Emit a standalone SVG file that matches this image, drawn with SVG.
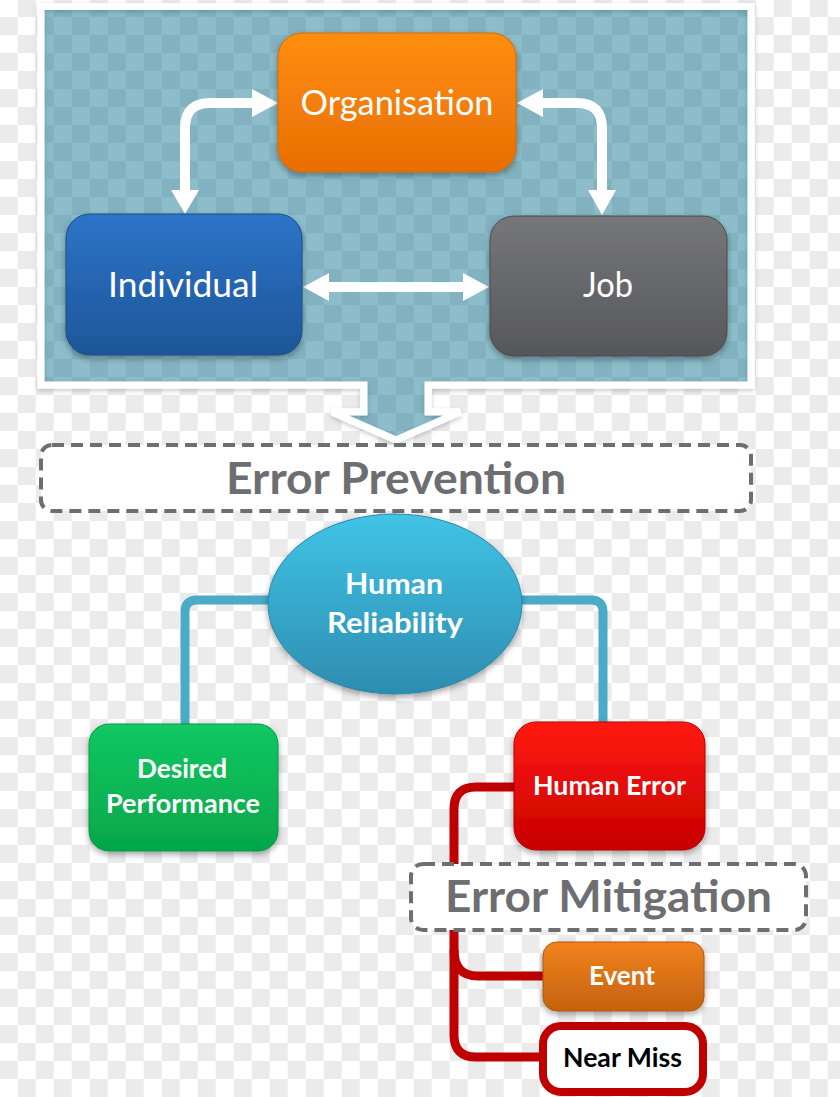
<svg xmlns="http://www.w3.org/2000/svg" width="840" height="1097" viewBox="0 0 840 1097">
  <defs>
    <pattern id="chk" x="-0.3" y="-1" width="36" height="36" patternUnits="userSpaceOnUse">
      <rect width="36" height="36" fill="#ffffff"/>
      <rect x="18" y="0" width="18" height="18" fill="#ebebeb"/>
      <rect x="0" y="18" width="18" height="18" fill="#ebebeb"/>
    </pattern>
    <linearGradient id="gOrg" x1="0" y1="0" x2="0" y2="1"><stop offset="0" stop-color="#ff8e10"/><stop offset="1" stop-color="#e86e02"/></linearGradient>
    <linearGradient id="gInd" x1="0" y1="0" x2="0" y2="1"><stop offset="0" stop-color="#2c74c8"/><stop offset="1" stop-color="#1e5699"/></linearGradient>
    <linearGradient id="gJob" x1="0" y1="0" x2="0" y2="1"><stop offset="0" stop-color="#76777b"/><stop offset="1" stop-color="#56575a"/></linearGradient>
    <linearGradient id="gDes" x1="0" y1="0" x2="0" y2="1"><stop offset="0" stop-color="#12c862"/><stop offset="1" stop-color="#05a64a"/></linearGradient>
    <linearGradient id="gErr" x1="0" y1="0" x2="0" y2="1"><stop offset="0" stop-color="#ff1a10"/><stop offset="1" stop-color="#c80000"/></linearGradient>
    <linearGradient id="gEvt" x1="0" y1="0" x2="0" y2="1"><stop offset="0" stop-color="#f2821e"/><stop offset="1" stop-color="#c4620e"/></linearGradient>
    <linearGradient id="gHR" x1="0" y1="0" x2="0" y2="1"><stop offset="0" stop-color="#40c4e6"/><stop offset="1" stop-color="#2d8db0"/></linearGradient>
    <filter id="sh" x="-10%" y="-10%" width="120%" height="130%">
      <feDropShadow dx="0" dy="3" stdDeviation="3" flood-color="#000" flood-opacity="0.35"/>
    </filter>
    <filter id="shLight" x="-5%" y="-5%" width="110%" height="115%">
      <feDropShadow dx="0" dy="2" stdDeviation="2.5" flood-color="#000" flood-opacity="0.22"/>
    </filter>
  </defs>
  <style>
    .lbl { font-family: Lato, "Liberation Sans", sans-serif; fill: #ffffff; text-anchor: middle; }
    .big { font-size: 34px; font-weight: normal; }
    .bold { font-weight: bold; font-size: 26px; }
    .hdr { font-family: Lato, "Liberation Sans", sans-serif; font-weight: bold; font-size: 44px; fill: #6d6e71; text-anchor: middle; }
    .dash { fill: #ffffff; stroke: #6d6e71; stroke-width: 4; stroke-dasharray: 12 7; }
    .wArrow { fill: none; stroke: #ffffff; stroke-width: 10; }
    .wHead { fill: #ffffff; }
    .teal { fill: none; stroke: #4aaac8; stroke-width: 9; }
    .red { fill: none; stroke: #c00000; stroke-width: 9; }
  </style>

  <rect width="840" height="1097" fill="url(#chk)"/>

  <g id="panel">
    <path d="M41,6.5 H751 V385 H428 V412 H460 L396,440 L332,412 H364 V385 H41 Z" fill="none" stroke="#ffffff" stroke-width="7" filter="url(#shLight)"/>
    <path d="M41,6.5 H751 V385 H428 V412 H460 L396,440 L332,412 H364 V385 H41 Z" fill="#026d8a" fill-opacity="0.45" stroke="#ffffff" stroke-width="7"/>
  </g>

  <g id="connectors">
    <path class="wArrow" d="M254,103 H210 Q185,103 185,128 V192"/>
    <polygon class="wHead" points="252,89 278,103 252,117"/>
    <polygon class="wHead" points="171,190 185,214 199,190"/>
    <path class="wArrow" d="M540,103 H577 Q602,103 602,128 V192"/>
    <polygon class="wHead" points="543,89 517,103 543,117"/>
    <polygon class="wHead" points="588,190 602,215 616,190"/>
    <path class="wArrow" d="M326,287 H466"/>
    <polygon class="wHead" points="329,273 303,287 329,301"/>
    <polygon class="wHead" points="463,273 489,287 463,301"/>
    <path class="teal" d="M280,600 H197 Q185,600 185,612 V726"/>
    <path class="teal" d="M510,600 H591 Q603,600 603,612 V724"/>
    <path class="red" d="M516,787 H476 Q454,787 454,809 V1035 Q454,1057 476,1057 H543"/>
    <path class="red" d="M454,950 Q454,976 478,976 H545"/>
  </g>

  <g id="organisation">
    <rect x="278" y="33" width="238" height="139" rx="24" fill="url(#gOrg)" stroke="#d86800" stroke-width="1" filter="url(#sh)"/>
    <text class="lbl big" x="397" y="115" textLength="193" lengthAdjust="spacingAndGlyphs">Organisation</text>
  </g>
  <g id="individual">
    <rect x="66" y="214" width="236" height="141" rx="24" fill="url(#gInd)" stroke="#1a4c8a" stroke-width="1" filter="url(#sh)"/>
    <text class="lbl big" x="183" y="297" textLength="150" lengthAdjust="spacingAndGlyphs">Individual</text>
  </g>
  <g id="job">
    <rect x="490" y="216" width="237" height="140" rx="24" fill="url(#gJob)" stroke="#4a4b4e" stroke-width="1" filter="url(#sh)"/>
    <text class="lbl big" x="608" y="297" textLength="50" lengthAdjust="spacingAndGlyphs">Job</text>
  </g>

  <g id="error-prevention">
    <rect class="dash" x="41" y="445" width="710" height="66" rx="11"/>
    <text class="hdr" x="396" y="494" textLength="340" lengthAdjust="spacingAndGlyphs">Error Prevention</text>
  </g>

  <g id="human-reliability">
    <ellipse cx="395" cy="604" rx="127" ry="90" fill="url(#gHR)" stroke="#2a86a8" stroke-width="1" filter="url(#sh)"/>
    <text class="lbl bold" x="394" y="594" style="font-size:28px" textLength="98" lengthAdjust="spacingAndGlyphs">Human</text>
    <text class="lbl bold" x="395" y="633" style="font-size:28px" textLength="136" lengthAdjust="spacingAndGlyphs">Reliability</text>
  </g>

  <g id="desired-performance">
    <rect x="89" y="724" width="189" height="127" rx="20" fill="url(#gDes)" stroke="#049a42" stroke-width="1" filter="url(#sh)"/>
    <text class="lbl bold" x="182" y="778" textLength="90" lengthAdjust="spacingAndGlyphs">Desired</text>
    <text class="lbl bold" x="183" y="813" textLength="154" lengthAdjust="spacingAndGlyphs">Performance</text>
  </g>

  <g id="human-error">
    <rect x="514" y="722" width="191" height="128" rx="22" fill="url(#gErr)" stroke="#b00000" stroke-width="1" filter="url(#sh)"/>
    <text class="lbl bold" x="609.5" y="795" textLength="153" lengthAdjust="spacingAndGlyphs">Human Error</text>
  </g>

  <g id="error-mitigation">
    <rect class="dash" x="411" y="864" width="395" height="66" rx="12"/>
    <text class="hdr" x="608.5" y="912" textLength="327" lengthAdjust="spacingAndGlyphs">Error Mitigation</text>
  </g>

  <g id="event">
    <rect x="543" y="942" width="161" height="69" rx="14" fill="url(#gEvt)" stroke="#b0580c" stroke-width="1" filter="url(#sh)"/>
    <text class="lbl bold" x="622" y="985" textLength="66" lengthAdjust="spacingAndGlyphs">Event</text>
  </g>

  <g id="near-miss">
    <rect x="543" y="1026" width="160" height="66" rx="18" fill="#ffffff" stroke="#c00000" stroke-width="8"/>
    <text class="lbl bold" x="622.5" y="1067" style="fill:#000000" textLength="119" lengthAdjust="spacingAndGlyphs">Near Miss</text>
  </g>
</svg>
